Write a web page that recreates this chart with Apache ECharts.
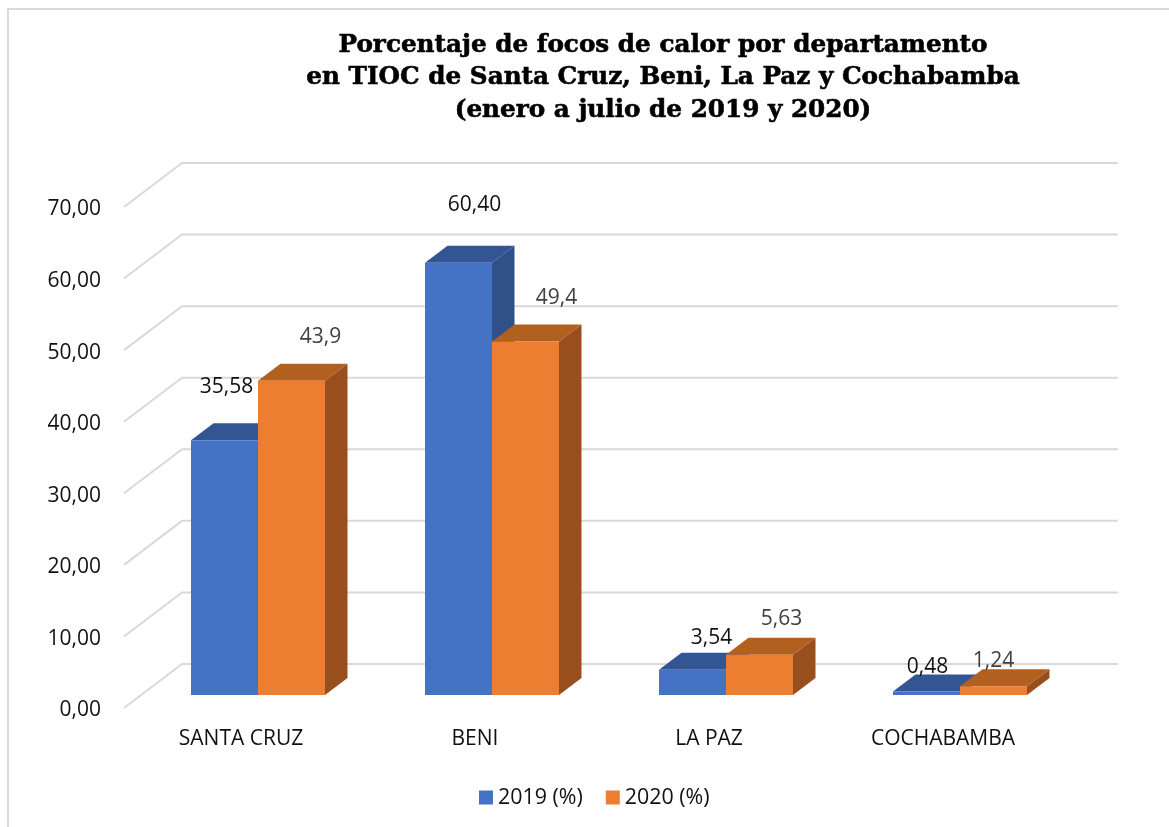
<!DOCTYPE html>
<html>
<head>
<meta charset="utf-8">
<style>html,body{margin:0;padding:0;background:#fff}#chart{width:1169px;height:827px}</style>
<script src="https://cdn.jsdelivr.net/npm/echarts@6/dist/echarts.min.js"></script>
</head>
<body>
<div id="chart"></div>
<script>
const categories = ['SANTA CRUZ', 'BENI', 'LA PAZ', 'COCHABAMBA'];
const values2019 = [35.58, 60.40, 3.54, 0.48];
const values2020 = [43.9, 49.4, 5.63, 1.24];
const labels2019 = ['35,58', '60,40', '3,54', '0,48'];
const labels2020 = ['43,9', '49,4', '5,63', '1,24'];
const yTicks = [0, 10, 20, 30, 40, 50, 60, 70];

// manual data-label nudges (dx, dy from the top-centre of the bar's front face)
const nudge2019 = [[2, -53], [16, -58], [19, -32], [1, -25]];
const nudge2020 = [[29, -44], [31, -43], [22, -36], [0, -25]];

const FONT = '"Open Sans", "Noto Sans", sans-serif';
const FS = 21;
const WALL = { dx: 58, dy: -44 };      // depth of the 3D box
const BAR = { dx: 22.5, dy: -17 };     // depth of each bar
const FRONT = { dx: 17, dy: -13 };     // bars sit inside the box
const BAR_BAND = 67 / 234;             // bar width as share of category band

function bar3d(seriesIdx, colors, labels, nudges, textColor) {
  return function (params, api) {
    const i = api.value(0);
    const v = api.value(1);
    const w = api.size([1, 0])[0] * BAR_BAND;
    const c = api.coord([i, v]);
    const b = api.coord([i, 0]);
    const xL = b[0] + FRONT.dx + (seriesIdx === 0 ? -w : 0);
    const xR = xL + w;
    const yB = b[1] + FRONT.dy;
    const yT = c[1] + FRONT.dy;
    const d = BAR;
    const n = nudges[i];
    return {
      type: 'group',
      children: [
        { type: 'polygon', shape: { points: [[xR, yB], [xR + d.dx, yB + d.dy], [xR + d.dx, yT + d.dy], [xR, yT]] }, style: { fill: colors.side } },
        { type: 'polygon', shape: { points: [[xL, yT], [xL + d.dx, yT + d.dy], [xR + d.dx, yT + d.dy], [xR, yT]] }, style: { fill: colors.top } },
        { type: 'rect', shape: { x: xL, y: yT, width: w, height: yB - yT }, style: { fill: colors.front } },
        { type: 'text', z2: 10, style: { text: labels[i], x: (xL + xR) / 2 + n[0], y: yT + n[1], align: 'center', verticalAlign: 'middle', font: FS + 'px ' + FONT, fill: textColor } }
      ]
    };
  };
}

const chart = echarts.init(document.getElementById('chart'), null, { renderer: 'canvas' });
chart.setOption({
  backgroundColor: '#ffffff',
  animation: false,
  title: {
    text: 'Porcentaje de focos de calor por departamento\nen TIOC de Santa Cruz, Beni, La Paz y Cochabamba\n(enero a julio de 2019 y 2020)',
    left: 658,
    top: 24,
    textAlign: 'center',
    textStyle: { fontFamily: '"DejaVu Serif", serif', fontWeight: 'bold', fontSize: 24.7, lineHeight: 32.5, color: '#000', textBorderColor: '#000', textBorderWidth: 0.6 }
  },
  legend: {
    data: ['2019 (%)', '2020 (%)'],
    left: 479,
    top: 787,
    padding: 0,
    icon: 'rect',
    itemWidth: 14,
    itemHeight: 14,
    itemGap: 23,
    textStyle: { fontFamily: FONT, fontSize: 21.4, color: '#111', padding: [4, 0, 0, 0] }
  },
  grid: { left: 124, top: 207, width: 936, height: 501 },
  xAxis: {
    type: 'category',
    data: categories,
    axisLine: { show: false },
    axisTick: { show: false },
    axisLabel: { margin: 21, fontFamily: FONT, fontSize: FS, color: '#111' }
  },
  yAxis: {
    type: 'value',
    min: 0,
    max: 70,
    interval: 10,
    axisLine: { show: false },
    axisTick: { show: false },
    splitLine: { show: false },
    axisLabel: {
      margin: 23,
      formatter: v => '{a|' + v.toFixed(2).replace('.', ',') + '}',
      rich: { a: { fontFamily: FONT, fontSize: FS, color: '#111', padding: [5, 0, 0, 0] } }
    }
  },
  series: [
    {
      type: 'custom',
      name: 'wall',
      silent: true,
      clip: false,
      z: 1,
      data: yTicks.map(t => [0, t]),
      renderItem(params, api) {
        const y = api.coord([0, api.value(1)])[1];
        const cs = params.coordSys;
        return {
          type: 'polyline',
          shape: { points: [[cs.x, y], [cs.x + WALL.dx, y + WALL.dy], [cs.x + cs.width + WALL.dx, y + WALL.dy]] },
          style: { stroke: '#d9d9d9', lineWidth: 2, fill: null }
        };
      }
    },
    {
      type: 'custom',
      name: '2019 (%)',
      clip: false,
      z: 2,
      itemStyle: { color: '#4472C4' },
      data: values2019.map((v, i) => [i, v]),
      renderItem: bar3d(0, { front: '#4472C4', top: '#335593', side: '#2F5187' }, labels2019, nudge2019, '#111')
    },
    {
      type: 'custom',
      name: '2020 (%)',
      clip: false,
      z: 3,
      itemStyle: { color: '#ED7D31' },
      data: values2020.map((v, i) => [i, v]),
      renderItem: bar3d(1, { front: '#ED7D31', top: '#B2601F', side: '#984F1D' }, labels2020, nudge2020, '#404040')
    }
  ],
  graphic: [
    { type: 'polyline', silent: true, shape: { points: [[8, 827], [8, 9], [1169, 9]] }, style: { stroke: '#d9d9d9', lineWidth: 2, fill: null } }
  ]
});
</script>
</body>
</html>
